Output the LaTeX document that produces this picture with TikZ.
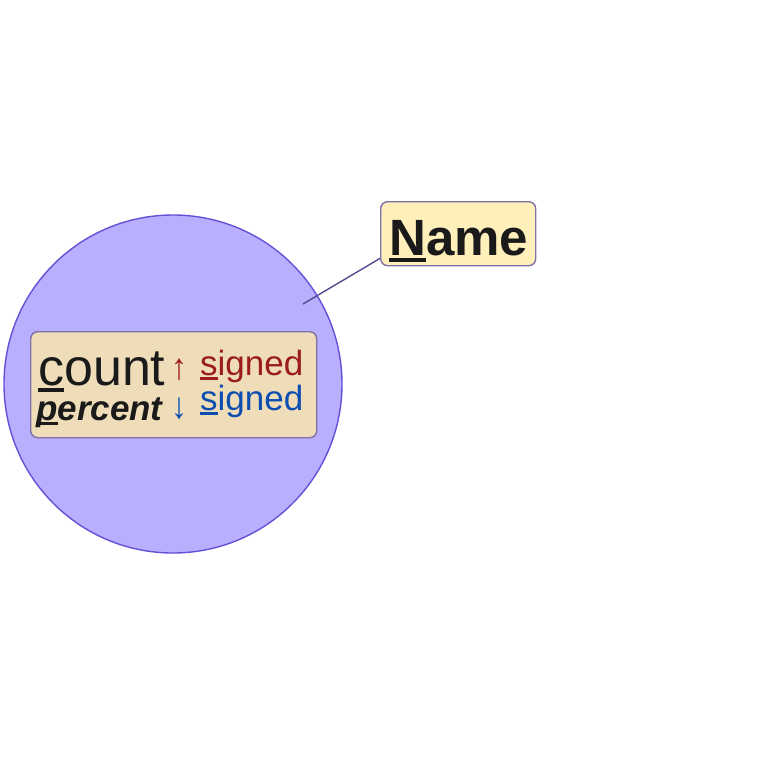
\documentclass[tikz,border=0pt]{standalone}
\usepackage{fontspec}
\setmainfont{Liberation Sans}
\definecolor{circfill}{HTML}{B8B0FF}
\definecolor{circline}{HTML}{6650D8}
\definecolor{boxfill}{HTML}{EEDDB8}
\definecolor{namefill}{HTML}{FFF0BB}
\definecolor{boxline}{HTML}{8070A8}
\definecolor{txt}{HTML}{1A1A1A}
\definecolor{upred}{HTML}{9B1C1C}
\definecolor{downblue}{HTML}{0B4DB0}
\definecolor{link}{HTML}{554A90}
\newcommand{\myul}[1]{\setbox0\hbox{#1}\rlap{\rule[-0.13em]{\wd0}{0.065em}}\box0}
\tikzset{
  panel/.style={draw=boxline, line width=1.4pt, rounded corners=7pt, inner sep=0pt, anchor=north west},
  lbl/.style={anchor=base west, inner sep=0pt, text=txt},
}
\begin{document}
\begin{tikzpicture}[x=1pt,y=-1pt]
\useasboundingbox (0,0) rectangle (768,768);
\node[circle, draw=circline, line width=1.4pt, fill=circfill, minimum size=338pt, inner sep=0pt] (circ) at (173,384) {};
\node[panel, fill=boxfill, minimum width=286pt, minimum height=106pt] (box) at (30,331) {};
\node[panel, fill=namefill, minimum width=155pt, minimum height=64pt] (namebox) at (380,201) {};
\node[lbl, text height=36pt, text depth=7pt] (count) at (38,385) {\fontsize{52}{52}\selectfont \myul{c}ount};
\node[lbl, font=\bfseries\itshape, text height=26pt, text depth=8pt] (percent) at (36,420) {\fontsize{35}{35}\selectfont \myul{p}ercent};
\node[lbl, text=upred, yscale=1.15, text height=24pt, text depth=2pt] (up) at (171,379) {\fontsize{32}{32}\selectfont ↑};
\node[lbl, text=downblue, yscale=1.15, text height=24pt, text depth=2pt] (down) at (171,418) {\fontsize{32}{32}\selectfont ↓};
\node[lbl, text=upred, text height=26pt, text depth=8pt] (sig1) at (200,375) {\fontsize{35}{35}\selectfont \myul{s}igned};
\node[lbl, text=downblue, text height=26pt, text depth=8pt] (sig2) at (200,410) {\fontsize{35}{35}\selectfont \myul{s}igned};
\node[lbl, font=\bfseries] (name) at (389,255) {\fontsize{51}{51}\selectfont \myul{N}ame};
\coordinate (tip) at (303,304);
\draw[link, line width=1.4pt] (namebox.south west) ++(0,-8) coordinate (nb) (nb) -- (tip);
\end{tikzpicture}
\end{document}
